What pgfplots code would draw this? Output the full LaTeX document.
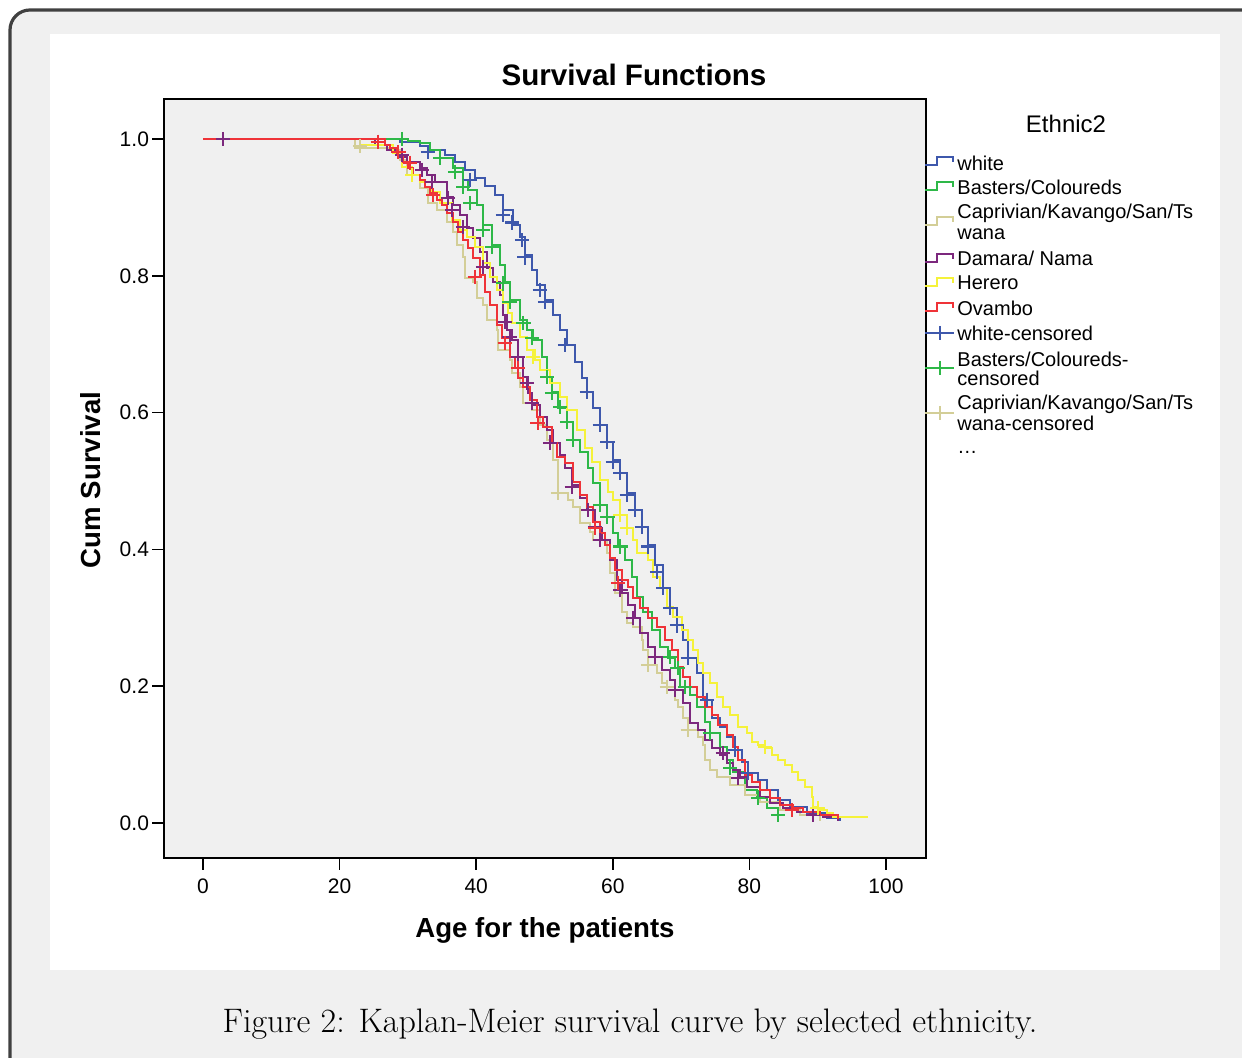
\documentclass[border=0pt]{standalone}
\usepackage{pgfplots}
\pgfplotsset{compat=1.18}
\usepackage{fontspec}
\newfontfamily\cf{Liberation Sans}
\definecolor{cwhite}{HTML}{3E58AC}
\definecolor{cbast}{HTML}{2EB848}
\definecolor{ccapr}{HTML}{D3CE97}
\definecolor{cdam}{HTML}{7C287D}
\definecolor{cher}{HTML}{F5F23A}
\definecolor{covam}{HTML}{EF3338}
\definecolor{axbg}{HTML}{F0F0F0}
\definecolor{outerbg}{HTML}{F0F0F0}
\definecolor{frame}{HTML}{404040}
\begin{document}
\begin{tikzpicture}
\useasboundingbox (0pt,0pt) rectangle (621pt,529pt);
\begin{scope}[x=0.5pt,y=-0.5pt,shift={(0pt,529pt)}]
% outer frame and white panel
\draw[frame, line width=1.6pt, fill=outerbg, rounded corners=10pt] (10,10) rectangle (1280,1100);
\fill[white] (50,34) rectangle (1220,970);
% title and axis labels
\node[font=\cf\bfseries\fontsize{14.8}{17}\selectfont] at (634,75) {Survival Functions};
\node[font=\cf\bfseries\fontsize{13.8}{16}\selectfont, rotate=90] at (91,480) {Cum Survival};
\node[font=\cf\bfseries\fontsize{13.8}{16}\selectfont] at (545,930) {Age for the patients};
% caption
\node[font=\fontsize{17}{20}\selectfont] at (630,1024) {Figure 2: Kaplan-Meier survival curve by selected ethnicity.};
\end{scope}
\begin{axis}[at={(82pt,100pt)}, anchor=south west, scale only axis,
  width=381pt, height=379.5pt,
  xmin=-5.71, xmax=105.86, ymin=-0.0512, ymax=1.0585,
  axis background/.style={fill=axbg},
  axis line style={black, line width=0.8pt},
  tick align=outside, major tick length=6pt,
  xtick={0,20,40,60,80,100}, ytick={0,0.2,0.4,0.6,0.8,1.0},
  xtick pos=left, ytick pos=left,
  tick style={black, line width=0.8pt},
  /pgf/number format/assume math mode=true,
  ticklabel style={font=\cf\fontsize{10.5}{12}\selectfont},
  yticklabel style={/pgf/number format/.cd, fixed, fixed zerofill, precision=1, /tikz/.cd, xshift=2pt},
  xticklabel style={yshift=-1pt},
  every axis plot/.append style={line width=1pt},
  clip=false]
% white
\addplot[const plot, cwhite] coordinates {(0,1) (25.9,1.0) (28.8,0.996) (31.8,0.990) (33.2,0.984) (35.4,0.976) (36.9,0.967) (38.4,0.955) (39.8,0.943) (41.3,0.931) (42.8,0.918) (43.9,0.896) (45.4,0.874) (46.4,0.857) (47.1,0.830) (48.2,0.808) (48.9,0.787) (50.1,0.765) (51.2,0.743) (52.3,0.721) (53.3,0.699) (54.5,0.674) (55.5,0.651) (56.2,0.630) (57.1,0.607) (58.1,0.582) (59.2,0.557) (60.0,0.531) (61.1,0.512) (62.1,0.482) (63.3,0.458) (64.3,0.433) (65.2,0.406) (66.2,0.377) (67.4,0.344) (68.4,0.314) (69.4,0.289) (70.3,0.268) (71.0,0.241) (72.3,0.219) (73.2,0.180) (74.5,0.154) (75.7,0.140) (76.7,0.126) (77.9,0.107) (78.9,0.089) (79.8,0.073) (81.3,0.063) (82.6,0.048) (84.2,0.034) (85.9,0.023) (88.4,0.015) (91.4,0.007) (93.3,0.004) (93.4,0.004)};
% basters/coloureds
\addplot[const plot, cbast] coordinates {(0,1) (30.0,0.997) (31.8,0.994) (33.2,0.984) (34.7,0.972) (36.6,0.957) (38.1,0.940) (38.8,0.925) (40.1,0.904) (41.0,0.874) (42.3,0.845) (43.5,0.816) (44.2,0.791) (44.9,0.765) (46.4,0.735) (47.4,0.721) (48.3,0.706) (49.6,0.681) (50.4,0.652) (51.1,0.630) (52.0,0.607) (53.3,0.586) (54.2,0.560) (55.2,0.542) (56.4,0.519) (57.1,0.497) (58.1,0.465) (59.2,0.447) (60.0,0.424) (60.8,0.404) (61.8,0.385) (62.8,0.360) (63.5,0.330) (64.4,0.308) (65.7,0.282) (66.9,0.257) (68.1,0.241) (69.1,0.227) (69.8,0.199) (71.3,0.187) (72.3,0.170) (73.5,0.148) (74.2,0.132) (75.7,0.111) (76.7,0.092) (77.6,0.075) (79.4,0.048) (81.1,0.037) (82.6,0.022) (84.2,0.016) (84.3,0.016)};
% caprivian
\addplot[const plot, ccapr] coordinates {(0,1) (22.3,0.987) (27.4,0.984) (28.8,0.969) (29.9,0.947) (31.8,0.928) (32.9,0.906) (34.3,0.896) (35.7,0.879) (36.6,0.864) (37.2,0.845) (38.1,0.827) (38.4,0.797) (39.5,0.791) (40.1,0.768) (41.0,0.757) (41.6,0.735) (43.0,0.721) (43.2,0.692) (44.9,0.677) (45.2,0.658) (46.4,0.637) (46.9,0.614) (48.2,0.604) (49.3,0.582) (50.4,0.560) (51.2,0.531) (52.0,0.482) (53.4,0.472) (54.2,0.462) (55.2,0.439) (56.7,0.425) (57.1,0.414) (59.2,0.395) (59.6,0.365) (60.3,0.336) (61.3,0.308) (62.1,0.292) (63.0,0.287) (64.3,0.268) (64.4,0.253) (65.2,0.231) (66.5,0.219) (67.2,0.205) (67.9,0.199) (69.1,0.180) (69.5,0.170) (70.3,0.154) (71.0,0.136) (72.5,0.126) (73.2,0.114) (73.5,0.092) (74.2,0.077) (75.3,0.067) (77.2,0.056) (79.4,0.041) (81.6,0.031) (84.5,0.019) (87.4,0.012) (90.3,0.004) (90.5,0.004)};
% damara/nama
\addplot[const plot, cdam] coordinates {(0,1) (25.2,0.991) (26.9,0.984) (28.6,0.974) (29.9,0.966) (31.8,0.958) (32.8,0.947) (34.0,0.937) (35.7,0.915) (36.6,0.904) (37.6,0.889) (38.7,0.870) (39.5,0.855) (40.6,0.835) (41.6,0.811) (42.5,0.791) (43.5,0.772) (43.9,0.743) (44.5,0.721) (45.2,0.706) (46.1,0.681) (46.9,0.652) (47.6,0.629) (48.2,0.611) (49.3,0.594) (50.4,0.575) (51.2,0.556) (52.3,0.538) (53.0,0.519) (54.0,0.494) (55.2,0.475) (56.2,0.458) (57.4,0.431) (58.4,0.414) (59.6,0.385) (60.6,0.355) (61.3,0.336) (62.2,0.319) (63.3,0.300) (64.0,0.278) (65.2,0.257) (66.2,0.243) (67.2,0.224) (68.4,0.209) (69.1,0.194) (70.3,0.175) (71.3,0.146) (72.5,0.136) (73.5,0.121) (74.5,0.110) (75.7,0.099) (76.7,0.088) (77.6,0.077) (78.6,0.067) (79.6,0.053) (81.6,0.038) (83.0,0.029) (84.9,0.022) (87.0,0.016) (88.9,0.012) (90.8,0.009) (93.0,0.004) (93.1,0.004)};
% herero
\addplot[const plot, cher] coordinates {(0,1) (23.0,0.991) (27.8,0.980) (29.1,0.959) (30.6,0.947) (31.8,0.937) (33.5,0.923) (34.7,0.906) (36.5,0.882) (37.6,0.867) (38.7,0.857) (39.8,0.842) (41.0,0.819) (42.0,0.798) (43.0,0.779) (43.9,0.760) (44.7,0.746) (45.2,0.731) (46.4,0.711) (47.4,0.692) (48.6,0.677) (49.3,0.662) (50.8,0.643) (52.3,0.623) (53.3,0.604) (54.8,0.575) (55.9,0.548) (57.0,0.528) (58.1,0.501) (59.3,0.484) (60.0,0.472) (61.1,0.450) (62.1,0.431) (63.0,0.414) (63.5,0.395) (65.2,0.385) (65.9,0.360) (66.9,0.344) (67.9,0.316) (68.8,0.301) (70.1,0.282) (71.0,0.268) (71.7,0.253) (72.5,0.234) (73.2,0.219) (74.2,0.205) (75.3,0.184) (76.1,0.170) (77.2,0.158) (78.3,0.140) (79.6,0.132) (80.4,0.118) (81.3,0.114) (82.3,0.110) (83.3,0.099) (84.2,0.092) (85.2,0.085) (86.2,0.075) (87.1,0.063) (88.1,0.053) (89.2,0.038) (89.3,0.023) (90.0,0.019) (91.4,0.015) (92.2,0.009) (97.4,0.009)};
% ovambo
\addplot[const plot, covam] coordinates {(0,1) (26.6,0.991) (27.4,0.987) (28.4,0.977) (29.3,0.966) (30.0,0.958) (30.7,0.947) (31.8,0.940) (32.5,0.930) (33.2,0.921) (34.3,0.911) (35.0,0.904) (35.7,0.892) (36.6,0.879) (37.3,0.864) (38.1,0.852) (38.8,0.841) (39.5,0.826) (40.6,0.801) (41.3,0.776) (42.0,0.757) (43.0,0.728) (43.8,0.709) (44.9,0.681) (45.7,0.665) (46.1,0.651) (46.9,0.637) (47.9,0.618) (48.9,0.594) (49.8,0.579) (51.1,0.556) (51.8,0.535) (53.0,0.526) (54.2,0.499) (55.2,0.480) (56.2,0.462) (57.1,0.440) (58.1,0.424) (58.9,0.406) (59.6,0.387) (60.3,0.370) (61.3,0.355) (62.2,0.345) (63.0,0.329) (64.0,0.314) (65.2,0.300) (66.5,0.287) (67.6,0.268) (68.7,0.253) (69.5,0.228) (70.3,0.213) (71.3,0.199) (72.3,0.184) (73.5,0.170) (74.5,0.158) (75.4,0.143) (76.7,0.129) (77.6,0.111) (78.3,0.092) (79.4,0.070) (80.4,0.060) (81.6,0.048) (83.0,0.037) (84.5,0.026) (86.4,0.022) (87.8,0.016) (90.3,0.012) (93.0,0.007) (93.1,0.007)};
% censored marks
\pgfplotsset{cens/.style={only marks, mark=+, mark size=3.6pt, mark options={line width=1.15pt}}}
\addplot[cens, cwhite] coordinates {(32.9,0.981) (39.1,0.940) (43.9,0.889) (45.2,0.878) (46.7,0.852) (47.1,0.827) (49.3,0.779) (50.1,0.762) (53.0,0.699) (56.2,0.630) (58.1,0.582) (59.2,0.557) (60.0,0.528) (61.1,0.512) (62.1,0.480) (63.3,0.458) (64.3,0.433) (65.2,0.404) (66.5,0.367) (67.4,0.344) (68.4,0.314) (69.4,0.289) (71.0,0.241) (73.8,0.180) (77.9,0.107) (79.8,0.073)};
\addplot[cens, cbast] coordinates {(29.1,1.0) (34.7,0.972) (36.9,0.952) (38.1,0.930) (39.1,0.906) (41.0,0.867) (42.3,0.842) (43.9,0.789) (44.9,0.762) (46.9,0.731) (48.2,0.709) (50.4,0.652) (51.1,0.629) (52.3,0.608) (53.3,0.586) (54.2,0.560) (58.1,0.465) (59.2,0.447) (61.1,0.404) (68.4,0.243) (69.5,0.227) (70.6,0.199) (74.2,0.132) (77.2,0.080) (81.3,0.037) (84.2,0.012)};
\addplot[cens, ccapr] coordinates {(23.0,0.990) (52.0,0.482) (65.2,0.231) (67.9,0.199) (71.0,0.136)};
\addplot[cens, cdam] coordinates {(2.9,1.0) (29.1,0.977) (32.1,0.955) (33.5,0.937) (35.9,0.914) (36.5,0.896) (38.1,0.871) (41.0,0.813) (44.2,0.732) (44.9,0.711) (46.1,0.681) (47.4,0.643) (48.2,0.614) (50.8,0.556) (54.0,0.491) (56.4,0.458) (57.4,0.433) (58.1,0.414) (61.1,0.341) (63.0,0.300) (66.2,0.243) (69.1,0.194) (76.1,0.102) (78.3,0.066) (89.3,0.012)};
\addplot[cens, cher] coordinates {(30.6,0.947) (48.3,0.681) (61.1,0.450) (62.1,0.431) (82.3,0.111) (90.0,0.022)};
\addplot[cens, covam] coordinates {(25.6,0.996) (28.6,0.981) (30.3,0.965) (33.7,0.918) (39.8,0.798) (44.2,0.702) (46.1,0.665) (49.0,0.585) (57.4,0.431) (60.8,0.351) (86.2,0.019)};
\end{axis}
\begin{scope}[x=0.5pt,y=-0.5pt,shift={(0pt,529pt)}]
% legend
\node[font=\cf\fontsize{12}{14}\selectfont] at (1066,124) {Ethnic2};
\begin{scope}[line width=0.9pt]
\foreach \yy/\cc in {165/cwhite, 190/cbast, 225/ccapr, 262/cdam, 286/cher, 311/covam} {
  \draw[\cc] (925,\yy) -- (937,\yy) -- (937,\yy-8) -- (953,\yy-8) -- (953,\yy-3);
}
\foreach \yy/\cc in {333/cwhite, 368/cbast, 413/ccapr} {
  \draw[\cc] (925,\yy) -- (954,\yy);
  \draw[\cc, line width=1.1pt] (940,\yy-7) -- (940,\yy+7);
}
\end{scope}
\begin{scope}[every node/.style={font=\cf\fontsize{10}{12}\selectfont, anchor=west, inner sep=0pt}]
\node at (957,163) {white};
\node at (957,187) {Basters/Coloureds};
\node at (957,213) {Caprivian/Kavango/San/Ts};
\node at (957,234) {wana};
\node at (957,258) {Damara/ Nama};
\node at (957,283) {Herero};
\node at (957,308) {Ovambo};
\node at (957,333) {white-censored};
\node at (957,359) {Basters/Coloureds-};
\node at (957,378) {censored};
\node at (957,404) {Caprivian/Kavango/San/Ts};
\node at (957,423) {wana-censored};
\node at (957,452) {\dots};
\end{scope}
\end{scope}
\end{tikzpicture}
\end{document}
